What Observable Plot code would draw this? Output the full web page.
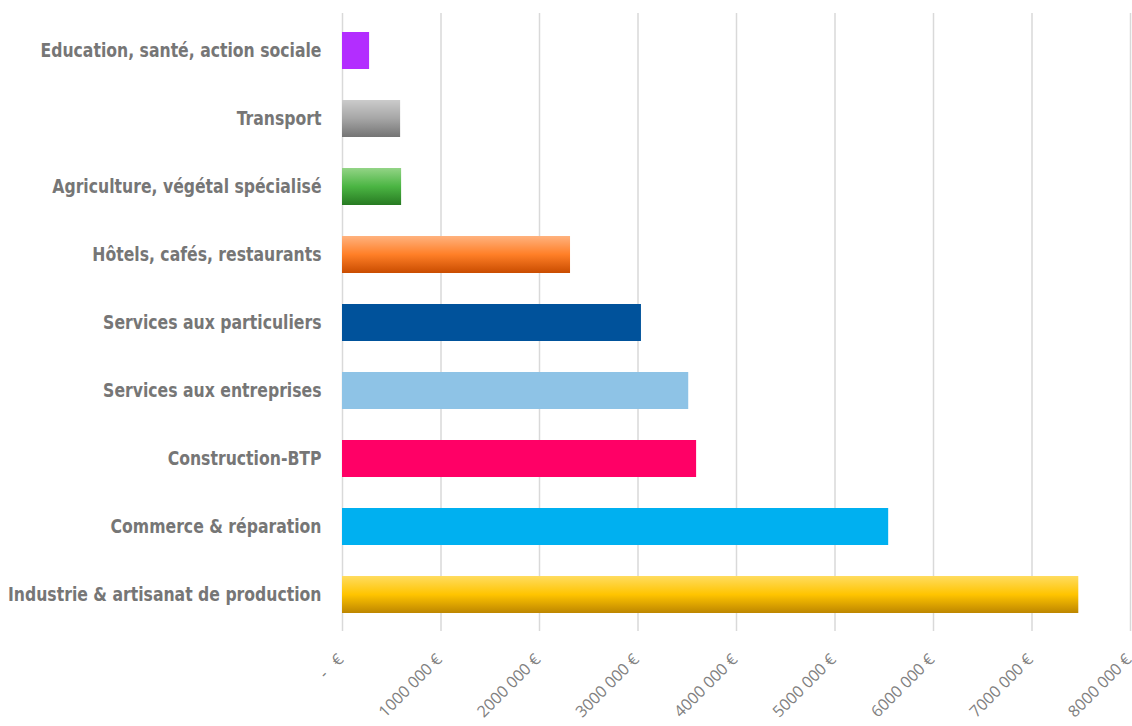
<!DOCTYPE html>
<html>
<head>
<meta charset="utf-8">
<script src="https://cdn.jsdelivr.net/npm/d3@7"></script>
<script src="https://cdn.jsdelivr.net/npm/@observablehq/plot@0.6"></script>
<style>
  html, body { margin: 0; padding: 0; background: #fff; }
  #chart svg { display: block; }
</style>
</head>
<body>
<div id="chart"></div>
<script>
const categories = [
  "Education, santé, action sociale",
  "Transport",
  "Agriculture, végétal spécialisé",
  "Hôtels, cafés, restaurants",
  "Services aux particuliers",
  "Services aux entreprises",
  "Construction-BTP",
  "Commerce & réparation",
  "Industrie & artisanat de production"
];
const values = [275000, 590000, 600000, 2315000, 3035000, 3515000, 3595000, 5545000, 7475000];
const fills = [
  "#b32dff",
  "url(#gGray)",
  "url(#gGreen)",
  "url(#gOrange)",
  "#00529b",
  "#8ec3e6",
  "#ff0066",
  "#00b0f0",
  "url(#gGold)"
];
const tickValues = [0, 1000000, 2000000, 3000000, 4000000, 5000000, 6000000, 7000000, 8000000];
const tickLabels = ["-\u00a0\u00a0\u00a0€", "1000 000 €", "2000 000 €", "3000 000 €", "4000 000 €", "5000 000 €", "6000 000 €", "7000 000 €", "8000 000 €"];
const gradients = {
  gGray: ["#cbcbcb", "#a6a6a6", "#747474"],
  gGreen: ["#93d486", "#4bb543", "#277a22"],
  gOrange: ["#ffb27e", "#ff7f27", "#c94c00"],
  gGold: ["#ffdc60", "#ffc400", "#bd8600"]
};

const data = categories.map((c, i) => ({category: c, value: values[i], fill: fills[i]}));
const ticks = tickValues.map((v, i) => ({v, label: tickLabels[i]}));

const svg = Plot.plot({
  width: 1132,
  height: 726,
  marginLeft: 342,
  marginRight: 2,
  marginTop: 13,
  marginBottom: 95,
  x: {domain: [0, 8000000], axis: null},
  y: {domain: categories, paddingInner: 0.46, paddingOuter: 0.233, axis: null},
  color: {type: "identity"},
  marks: [
    Plot.ruleX(tickValues, {stroke: "#d9d9d9", strokeWidth: 1.5}),
    Plot.barX(data, {x: "value", y: "category", fill: "fill"}),
    Plot.axisY({
      tickSize: 0,
      tickPadding: 21,
      fontSize: 20,
      fontWeight: "bold",
      color: "#767676",
      label: null
    }),
    Plot.text(ticks, {
      x: "v",
      text: "label",
      frameAnchor: "bottom",
      rotate: -45,
      textAnchor: "end",
      dx: 2,
      dy: 29,
      fontSize: 16,
      fill: "#808080",
      fontFamily: "'Open Sans', sans-serif"
    })
  ]
});

const defs = d3.select(svg).insert("defs", ":first-child");
for (const [id, stops] of Object.entries(gradients)) {
  const g = defs.append("linearGradient").attr("id", id)
    .attr("x1", 0).attr("y1", 0).attr("x2", 0).attr("y2", 1);
  stops.forEach((c, i) => g.append("stop").attr("offset", i / (stops.length - 1)).attr("stop-color", c));
}

document.getElementById("chart").appendChild(svg);

// condensed look for category labels
const labels = d3.select(svg).selectAll('g[aria-label="y-axis tick label"] text');
labels.style("font-family", "'DejaVu Sans Condensed', 'DejaVu Sans', sans-serif").style("font-stretch", "condensed");
const nodes = labels.nodes();
if (nodes.length) {
  const ref = nodes.find(n => n.textContent === categories[0]) || nodes[0];
  const ratio = Math.min(1, 281 / ref.getComputedTextLength());
  nodes.forEach(n => {
    const w = n.getComputedTextLength();
    n.setAttribute("textLength", (w * ratio).toFixed(1));
    n.setAttribute("lengthAdjust", "spacingAndGlyphs");
  });
}
</script>
</body>
</html>
